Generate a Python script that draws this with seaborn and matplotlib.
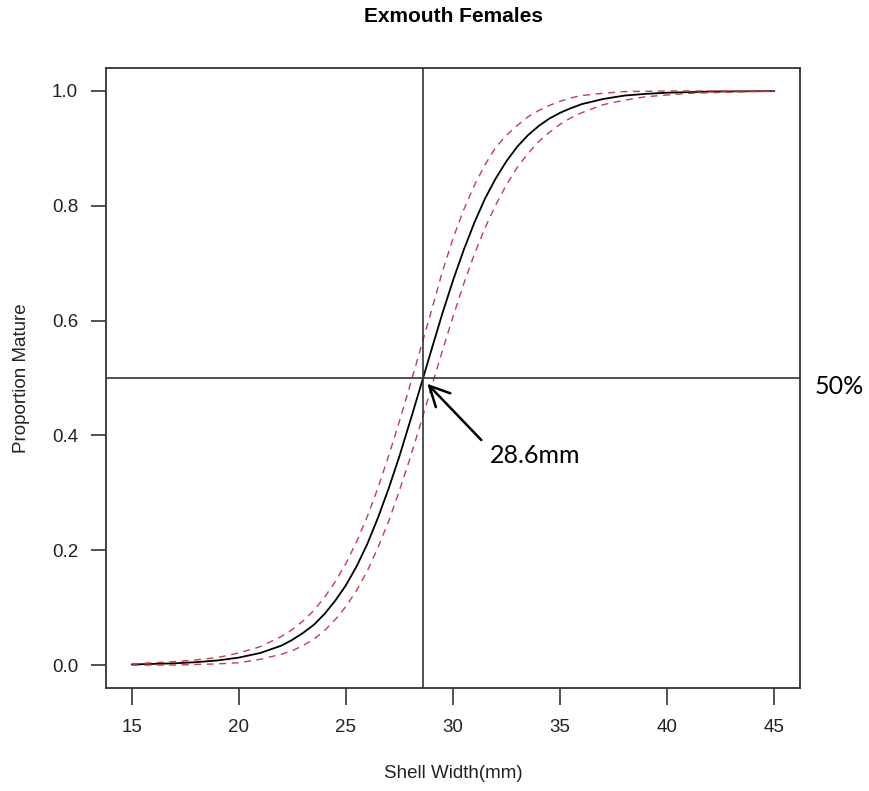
import numpy as np
import pandas as pd
import matplotlib
matplotlib.use("Agg")
import matplotlib.pyplot as plt
import seaborn as sns

# values
shell_width = [15, 16, 17, 18, 19, 20, 21, 22, 22.5, 23, 23.5, 24, 24.5, 25, 25.5,
               26, 26.5, 27, 27.5, 28, 28.5, 29, 29.5, 30, 30.5, 31, 31.5, 32, 32.5,
               33, 33.5, 34, 34.5, 35, 35.5, 36, 37, 38, 39, 40, 41, 42, 43, 44, 45]
prop_fit = [0.001, 0.002, 0.003, 0.005, 0.008, 0.013, 0.021, 0.034, 0.044, 0.056, 0.070,
            0.089, 0.112, 0.139, 0.172, 0.211, 0.257, 0.308, 0.364, 0.425, 0.487, 0.550,
            0.612, 0.670, 0.723, 0.771, 0.813, 0.848, 0.878, 0.903, 0.923, 0.939, 0.952,
            0.962, 0.970, 0.977, 0.986, 0.992, 0.995, 0.997, 0.998, 0.999, 0.9993, 0.9996, 0.9998]
prop_lower = [0.000, 0.000, 0.000, 0.001, 0.002, 0.004, 0.010, 0.019, 0.025, 0.034, 0.045,
              0.060, 0.079, 0.102, 0.130, 0.164, 0.205, 0.251, 0.304, 0.361, 0.422, 0.485,
              0.547, 0.607, 0.664, 0.716, 0.762, 0.802, 0.837, 0.867, 0.891, 0.912, 0.928,
              0.942, 0.953, 0.962, 0.976, 0.984, 0.990, 0.993, 0.996, 0.997, 0.998, 0.999, 0.9993]
prop_upper = [0.002, 0.004, 0.006, 0.009, 0.013, 0.021, 0.032, 0.050, 0.062, 0.077, 0.095,
              0.118, 0.145, 0.177, 0.215, 0.259, 0.309, 0.365, 0.425, 0.488, 0.553, 0.618,
              0.685, 0.743, 0.793, 0.836, 0.872, 0.902, 0.923, 0.940, 0.955, 0.966, 0.975,
              0.982, 0.988, 0.992, 0.996, 0.999, 0.9995, 1.0, 1.0, 1.0, 1.0, 1.0, 1.0]
l50 = 28.6

df = pd.DataFrame({"width": shell_width, "fit": prop_fit,
                   "lower": prop_lower, "upper": prop_upper})

sns.set_theme(style="ticks")
plt.rcParams["font.family"] = ["Liberation Sans", "DejaVu Sans"]

txt = "#222222"
fig = plt.figure(figsize=(8.69, 7.91), dpi=100)
ax = fig.add_axes([0.122, 0.1302, 0.7986, 0.7838])

sns.lineplot(data=df, x="width", y="fit", ax=ax, color="black", lw=1.3)
for col in ["lower", "upper"]:
    sns.lineplot(data=df, x="width", y=col, ax=ax, color="#c0404a", lw=1.0,
                 linestyle=(0, (5, 4)))

ax.axvline(l50, color="#333333", lw=1.2)
ax.axhline(0.5, color="#333333", lw=1.2)

ax.set_xlim(13.8, 46.2)
ax.set_ylim(-0.04, 1.04)
ax.set_xticks([15, 20, 25, 30, 35, 40, 45])
ax.set_yticks([0.0, 0.2, 0.4, 0.6, 0.8, 1.0])
ax.set_yticklabels(["0.0", "0.2", "0.4", "0.6", "0.8", "1.0"])
ax.tick_params(axis="x", length=12, width=1.2, pad=10, labelsize=13.5,
               colors="#333333", labelcolor=txt)
ax.tick_params(axis="y", length=11, width=1.2, pad=9, labelsize=13.5,
               colors="#333333", labelcolor=txt)
for s in ax.spines.values():
    s.set_visible(True)
    s.set_color("#333333")
    s.set_linewidth(1.3)
ax.set_xlabel("")
ax.set_ylabel("")

fig.text(453 / 869, 1 - 17 / 791, "Exmouth Females", ha="center", va="center",
         fontsize=15, fontweight="bold", color="black")
fig.text(453 / 869, 1 - 774 / 791, "Shell Width(mm)", ha="center", va="center",
         fontsize=13.5, color=txt)
fig.text(22 / 869, 1 - 378 / 791, "Proportion Mature", ha="center", va="center",
         rotation=90, fontsize=13.5, color=txt)

# annotations
ax.annotate("", xy=(28.80, 0.490), xytext=(31.32, 0.392),
            arrowprops=dict(arrowstyle="->,head_length=0.4,head_width=0.2",
                            lw=1.8, color="black", mutation_scale=36,
                            shrinkA=0, shrinkB=0))
ax.text(33.83, 0.3646, "28.6mm", ha="center", va="center", fontsize=18,
        family=["Lato", "DejaVu Sans"], color="black", clip_on=False)
ax.text(46.89, 0.486, "50%", ha="left", va="center", fontsize=18,
        family=["Lato", "DejaVu Sans"], color="black", clip_on=False)

fig.savefig("out.png", dpi=100, facecolor="white")
